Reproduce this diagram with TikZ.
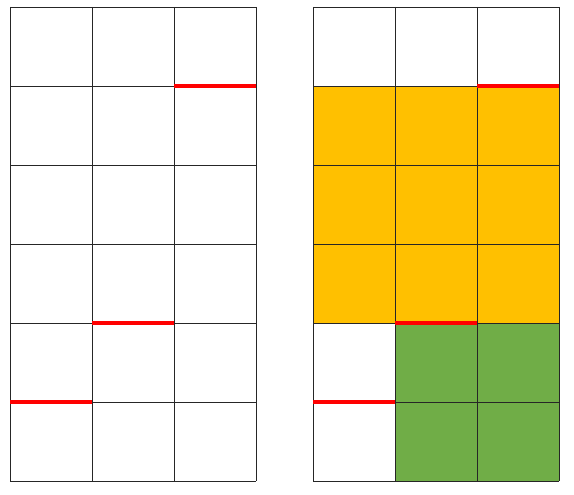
\documentclass[tikz,border=0pt]{standalone}
\usepackage{tikz}

\definecolor{cellorange}{HTML}{FFC000}
\definecolor{cellgreen}{HTML}{70AD47}

\begin{document}
\begin{tikzpicture}[x=1pt,y=-1pt,
    gridline/.style={line width=0.9pt,black!85},
    wall/.style={line width=3.6pt,red}]
  \useasboundingbox (0,0) rectangle (574,495);
  % filled cells of the right grid
  \fill[cellorange] (313,86) rectangle (559,323);
  \fill[cellgreen] (395,323) rectangle (559,481);
  \foreach \xo in {10,313} {
    \foreach \i in {0,...,3}
      \draw[gridline] ({\xo+82*\i},7) -- ({\xo+82*\i},481);
    \foreach \j in {0,...,6}
      \draw[gridline] (\xo,{7+79*\j}) -- ({\xo+246},{7+79*\j});
    \draw[wall] ({\xo+164},86) -- ({\xo+246},86);
    \draw[wall] ({\xo+82},323) -- ({\xo+164},323);
    \draw[wall] (\xo,402) -- ({\xo+82},402);
  }
\end{tikzpicture}
\end{document}
